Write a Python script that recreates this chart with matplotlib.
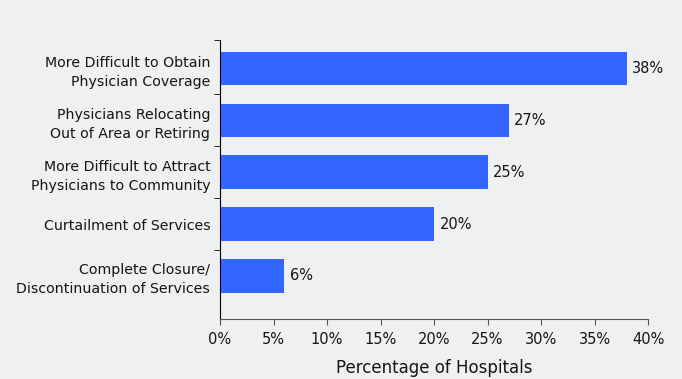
import matplotlib
matplotlib.use("Agg")
import matplotlib.pyplot as plt
from matplotlib.ticker import FuncFormatter, FixedLocator

categories = [
    "More Difficult to Obtain\nPhysician Coverage",
    "Physicians Relocating\nOut of Area or Retiring",
    "More Difficult to Attract\nPhysicians to Community",
    "Curtailment of Services",
    "Complete Closure/\nDiscontinuation of Services",
]
values = [38, 27, 25, 20, 6]
xticks = [0, 5, 10, 15, 20, 25, 30, 35, 40]

bg = "#EFF0F2"
txt = "#151515"
fig = plt.figure(figsize=(6.82, 3.79), dpi=100, facecolor=bg)
ax = fig.add_axes([0.3226, 0.1583, 0.6276, 0.7362])
ax.set_facecolor(bg)

n = len(categories)
ypos = list(range(n))
ax.barh(ypos, values, height=0.65, color="#3366FF")
ax.set_ylim(4.83, -0.55)
ax.set_xlim(0, 40)

for y, v in zip(ypos, values):
    ax.text(v + 0.5, y, f"{v}%", va="center", ha="left", fontsize=10.5, color=txt)

ax.set_yticks(ypos)
ax.set_yticklabels(categories, fontsize=10.2, ha="right", color=txt, linespacing=1.45)
ax.tick_params(axis="y", which="major", length=0, pad=7)
ax.yaxis.set_minor_locator(FixedLocator([i + 0.5 for i in range(n - 1)] + [-0.55]))
ax.tick_params(axis="y", which="minor", length=4, direction="out", color="black")

ax.set_xticks(xticks)
ax.xaxis.set_major_formatter(FuncFormatter(lambda x, p: f"{int(x)}%"))
ax.tick_params(axis="x", length=4, direction="out", labelsize=10.5, colors=txt, color="#555555", pad=5)
ax.set_xlabel("Percentage of Hospitals", fontsize=12, color=txt, labelpad=9)

for s in ["top", "right"]:
    ax.spines[s].set_visible(False)
ax.spines["left"].set_color("black")
ax.spines["bottom"].set_color("#555555")

fig.savefig("out.png", dpi=100, facecolor=bg)
